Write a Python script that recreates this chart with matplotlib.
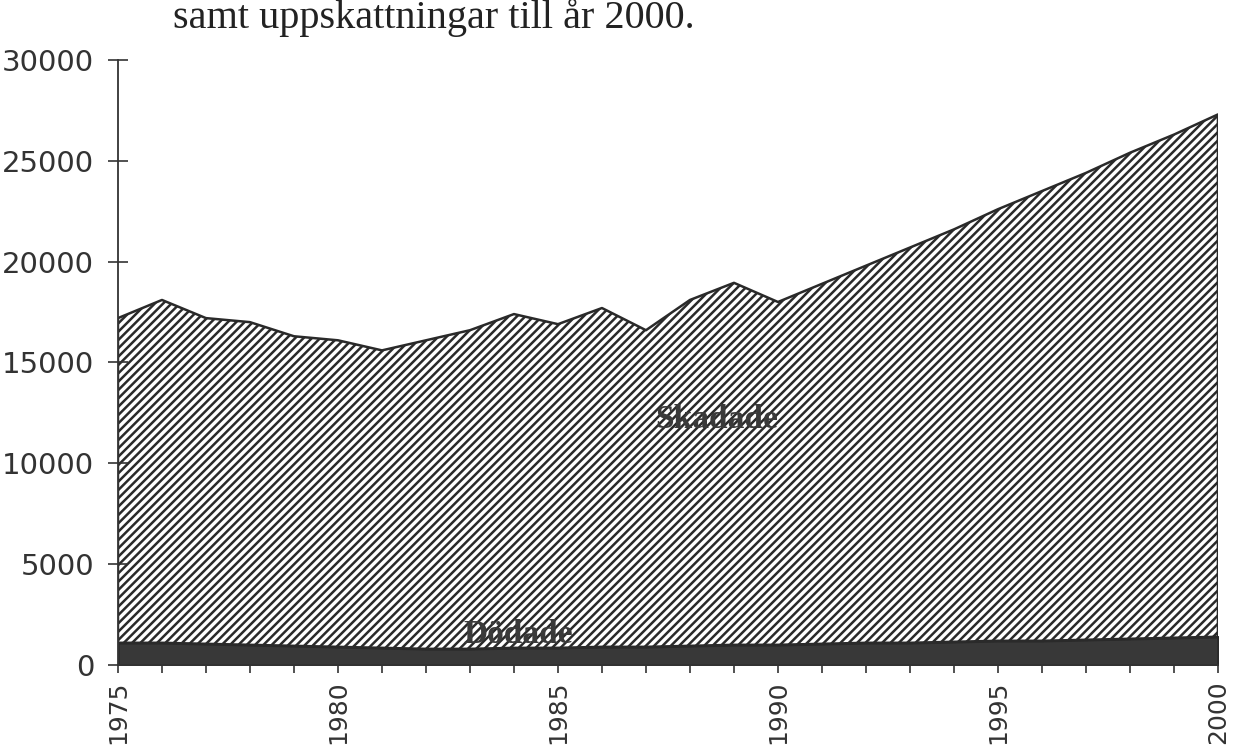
import numpy as np
import matplotlib.pyplot as plt

plt.rcParams['hatch.linewidth'] = 1.8
plt.rcParams['hatch.color'] = '#2a2a2a'

# Years and values
years = list(range(1975, 2001))
dodade = [1100, 1100, 1050, 1000, 950, 900, 850, 800, 800, 850,
          850, 900, 900, 950, 1000, 1000, 1050, 1100, 1100, 1150,
          1200, 1200, 1250, 1300, 1350, 1400]
skadade = [16100, 17000, 16150, 16000, 15350, 15200, 14750, 15300, 15800, 16550,
           16050, 16800, 15700, 17150, 17950, 17000, 17850, 18700, 19600, 20450,
           21400, 22300, 23150, 24100, 24950, 25900]
series_labels = ['Dödade', 'Skadade']
xtick_years = [1975, 1980, 1985, 1990, 1995, 2000]
yticks = [0, 5000, 10000, 15000, 20000, 25000, 30000]
title_text = 'samt uppskattningar till år 2000.'

fig = plt.figure(figsize=(12.34, 7.46), dpi=100)
ax = fig.add_axes([0.0956, 0.1086, 0.8914, 0.811])

polys = ax.stackplot(years, dodade, skadade, colors=['#383838', 'white'],
                     edgecolor='#2a2a2a', linewidth=1.8)
polys[1].set_hatch('////')

ax.set_xlim(1975, 2000)
ax.set_ylim(0, 30000)

for s in ['top', 'right']:
    ax.spines[s].set_visible(False)
ax.spines['left'].set_color('#333333')
ax.spines['bottom'].set_color('#333333')
ax.spines['left'].set_linewidth(1.3)
ax.spines['bottom'].set_linewidth(1.3)

ax.set_yticks(yticks)
ax.set_yticklabels([str(v) for v in yticks], fontsize=21, family='DejaVu Sans',
                   color='#333333')
ax.tick_params(axis='y', direction='inout', length=14, width=1.2, pad=10, colors='#333333')

ax.set_xticks(years, minor=True)
ax.set_xticks(xtick_years)
ax.set_xticklabels([str(v) for v in xtick_years], rotation=90, fontsize=18,
                   family='DejaVu Sans', color='#333333')
ax.tick_params(axis='x', which='both', direction='out', length=6, width=1.2,
               pad=5, colors='#333333')

ax.text(1988.6, 12160, series_labels[1], fontsize=24, family='Liberation Serif',
        fontweight='bold', color='#3a3a3a', ha='center', va='center')
ax.text(1984.1, 1500, series_labels[0], fontsize=24, family='Liberation Serif',
        fontweight='bold', color='#3a3a3a', ha='center', va='center')

fig.text(0.14, 0.962, title_text, fontsize=29, family='Liberation Serif',
         color='#222222', ha='left', va='baseline')

fig.savefig('out.png', dpi=100)
